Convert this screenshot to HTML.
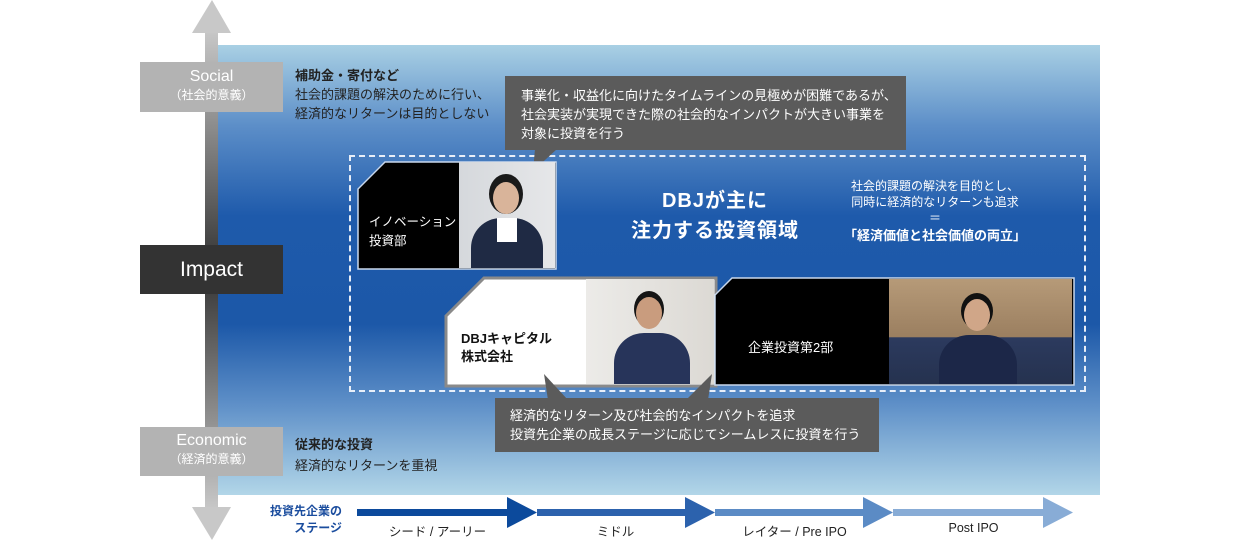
<!DOCTYPE html>
<html><head><meta charset="utf-8"><style>
*{margin:0;padding:0;box-sizing:border-box}
body{width:1240px;height:540px;background:#fff;position:relative;overflow:hidden;font-family:"Liberation Sans","Noto Sans CJK JP",sans-serif}
.a{position:absolute}
.panel{left:215px;top:45px;width:885px;height:450px;background:linear-gradient(180deg,#a9d0e4 0%,#5c8ec8 18%,#1e5aab 38%,#1c58a8 62%,#5f90c8 80%,#b2d6e8 100%)}
.lbl{left:140px;width:143px;color:#fff;text-align:center}
.t{color:#fff;font-size:13px;line-height:19px}
.call{background:#5b5b5b;color:#fff;font-size:13px;line-height:19px}
.ph{overflow:hidden}
</style></head><body>
<div class="a panel"></div>
<svg class="a" style="left:180px;top:0" width="60" height="540">
<defs><linearGradient id="g" x1="0" y1="0" x2="0" y2="1">
<stop offset="0" stop-color="#c8c8c8"/><stop offset="0.5" stop-color="#333"/><stop offset="1" stop-color="#c8c8c8"/></linearGradient></defs>
<rect x="25" y="30" width="13" height="480" fill="url(#g)"/>
<polygon points="12,33 32,0 51,33" fill="#c8c8c8"/>
<polygon points="12,507 32,540 51,507" fill="#c8c8c8"/>
</svg>
<div class="a lbl" style="top:62px;height:50px;background:#b3b3b3"><div style="font-size:16px;margin-top:6px">Social</div><div style="font-size:12px">（社会的意義）</div></div>
<div class="a lbl" style="top:245px;height:49px;background:#333;font-size:21px;line-height:49px">Impact</div>
<div class="a lbl" style="top:427px;height:49px;background:#b3b3b3"><div style="font-size:16px;margin-top:5px">Economic</div><div style="font-size:12px">（経済的意義）</div></div>
<div class="a" style="left:295px;top:66px;font-size:13px;line-height:19px;color:#222"><b>補助金・寄付など</b><br>社会的課題の解決のために行い、<br>経済的なリターンは目的としない</div>
<div class="a" style="left:295px;top:434px;font-size:13px;line-height:21px;color:#222"><b>従来的な投資</b><br>経済的なリターンを重視</div>
<div class="a" style="left:349px;top:155px;width:737px;height:237px;border:2px dashed #e8eef8"></div>
<div class="a call" style="left:505px;top:76px;width:401px;height:74px;padding:10px 0 0 16px">事業化・収益化に向けたタイムラインの見極めが困難であるが、<br>社会実装が実現できた際の社会的なインパクトが大きい事業を<br>対象に投資を行う</div>
<svg class="a" style="left:525px;top:149px" width="40" height="24"><polygon points="10,0 32,0 8,22" fill="#5b5b5b"/></svg>
<svg class="a" style="left:357px;top:161px" width="200" height="109"><polygon points="28,1 199,1 199,108 1,108 1,28" fill="#000" stroke="#c9d8ec" stroke-width="1.5"/></svg>
<div class="a ph" style="left:459px;top:162px;width:96px;height:106px;background:linear-gradient(90deg,#d5d8dc,#e6e7e9)">
<div class="a" style="left:30px;top:12px;width:34px;height:40px;border-radius:50%;background:#1a1a1a"></div>
<div class="a" style="left:34px;top:20px;width:26px;height:32px;border-radius:50%;background:#d9b49a"></div>
<div class="a" style="left:12px;top:56px;width:72px;height:60px;border-radius:30px 30px 0 0;background:#1f2a44"></div>
<div class="a" style="left:38px;top:56px;width:20px;height:24px;background:#fff"></div></div>
<div class="a t" style="left:369px;top:213px;font-size:12.5px">イノベーション<br>投資部</div>
<div class="a" style="left:620px;top:186px;color:#fff;font-size:20px;line-height:30px;font-weight:bold;text-align:center;width:190px;letter-spacing:1px">DBJが主に<br>注力する投資領域</div>
<div class="a" style="left:820px;top:178px;color:#fff;font-size:12px;line-height:16px;text-align:center;width:230px">社会的課題の解決を目的とし、<br>同時に経済的なリターンも追求<br>＝<br><b style="font-size:13px;line-height:20px">「経済価値と社会価値の両立」</b></div>
<svg class="a" style="left:444px;top:276px" width="275" height="112"><polygon points="40,2 272,2 272,110 2,110 2,40" fill="#fff" stroke="#8a8a8a" stroke-width="3"/></svg>
<div class="a ph" style="left:586px;top:279px;width:128px;height:105px;background:linear-gradient(90deg,#ecebe8,#dcd9d4)">
<div class="a" style="left:48px;top:12px;width:30px;height:36px;border-radius:50%;background:#151515"></div>
<div class="a" style="left:50px;top:18px;width:26px;height:32px;border-radius:50%;background:#c99c7e"></div>
<div class="a" style="left:28px;top:54px;width:76px;height:60px;border-radius:30px 30px 0 0;background:#27345a"></div></div>
<div class="a" style="left:461px;top:330px;font-size:13px;line-height:18px;color:#111;font-weight:bold">DBJキャピタル<br>株式会社</div>
<svg class="a" style="left:714px;top:277px" width="362" height="110"><polygon points="18,1 360,1 360,108 1,108 1,18" fill="#000" stroke="#c9d8ec" stroke-width="1.5"/></svg>
<div class="a ph" style="left:889px;top:279px;width:183px;height:105px;background:linear-gradient(180deg,#b69a78 0%,#9b7f60 55%,#2c3a5e 56%,#25324f 100%)">
<div class="a" style="left:72px;top:14px;width:32px;height:36px;border-radius:50%;background:#111"></div>
<div class="a" style="left:75px;top:20px;width:26px;height:32px;border-radius:50%;background:#d0a688"></div>
<div class="a" style="left:50px;top:56px;width:78px;height:60px;border-radius:30px 30px 0 0;background:#1c2748"></div></div>
<div class="a t" style="left:748px;top:338px">企業投資第2部</div>
<svg class="a" style="left:530px;top:372px" width="200" height="30"><polygon points="14,2 38,28 18,28" fill="#5b5b5b"/><polygon points="182,2 178,28 156,28" fill="#5b5b5b"/></svg>
<div class="a call" style="left:495px;top:398px;width:384px;height:54px;padding:8px 0 0 15px">経済的なリターン及び社会的なインパクトを追求<br>投資先企業の成長ステージに応じてシームレスに投資を行う</div>
<div class="a" style="left:250px;top:503px;color:#1b4d9e;font-size:12px;line-height:17px;font-weight:bold;text-align:right;width:92px">投資先企業の<br>ステージ</div>
<svg class="a" style="left:355px;top:495px" width="720" height="40">
<rect x="2" y="14" width="152" height="7" fill="#0c4a9c"/><polygon points="152,2 182,17.5 152,33" fill="#0c4a9c"/>
<rect x="182" y="14" width="150" height="7" fill="#2c62ad"/><polygon points="330,2 360,17.5 330,33" fill="#2c62ad"/>
<rect x="360" y="14" width="150" height="7" fill="#5b8bc5"/><polygon points="508,2 538,17.5 508,33" fill="#5b8bc5"/>
<rect x="538" y="14" width="152" height="7" fill="#88acd6"/><polygon points="688,2 718,17.5 688,33" fill="#88acd6"/>
</svg>
<div class="a" style="left:370px;top:521px;font-size:12.5px;color:#222;width:135px;text-align:center">シード / アーリー</div>
<div class="a" style="left:548px;top:521px;font-size:12.5px;color:#222;width:135px;text-align:center">ミドル</div>
<div class="a" style="left:727px;top:521px;font-size:12.5px;color:#222;width:135px;text-align:center">レイター / Pre IPO</div>
<div class="a" style="left:906px;top:521px;font-size:12.5px;color:#222;width:135px;text-align:center">Post IPO</div>
</body></html>
